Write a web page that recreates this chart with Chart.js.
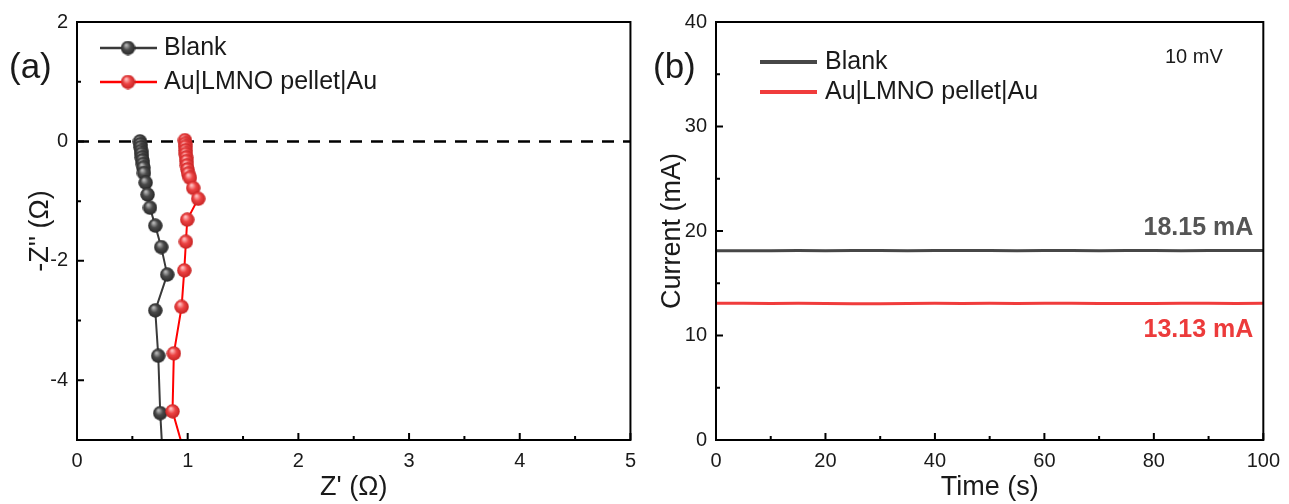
<!DOCTYPE html>
<html>
<head>
<meta charset="utf-8">
<script src="https://cdn.jsdelivr.net/npm/chart.js@4.4.1/dist/chart.umd.min.js"></script>
<style>
  html,body{margin:0;padding:0;background:#fff;}
  #wrap{position:relative;width:1289px;height:504px;overflow:hidden;}
  #ca{position:absolute;left:0;top:0;}
  #cb{position:absolute;left:645px;top:0;}
</style>
</head>
<body>
<div id="wrap">
  <canvas id="ca" width="645" height="504"></canvas>
  <canvas id="cb" width="644" height="504"></canvas>
</div>
<script>
// ---------- Panel (a) data : Nyquist plot ----------
const blankZre = [0.569,0.572,0.575,0.579,0.583,0.587,0.591,0.596,0.600,0.605,0.620,0.638,0.659,0.707,0.761,0.815,0.707,0.734,0.752,0.790];
const blankZim = [0.00,-0.05,-0.10,-0.16,-0.21,-0.27,-0.32,-0.38,-0.44,-0.53,-0.69,-0.89,-1.11,-1.41,-1.77,-2.23,-2.83,-3.59,-4.55,-5.80];
const redZre   = [0.975,0.977,0.979,0.981,0.983,0.986,0.989,0.993,0.998,1.005,1.020,1.050,1.095,0.996,0.984,0.969,0.945,0.875,0.863,1.060];
const redZim   = [0.02,-0.04,-0.09,-0.15,-0.21,-0.27,-0.33,-0.40,-0.47,-0.54,-0.61,-0.78,-0.96,-1.31,-1.68,-2.16,-2.77,-3.55,-4.52,-5.80];
const zeroLineX = [0, 5];
const zeroLineY = [0, 0];
const xTicksA = [0,1,2,3,4,5];
const xMinorA = [0.5,1.5,2.5,3.5,4.5];
const yTicksA = [-4,-2,0,2];
const yMinorA = [-5,-3,-1,1];

// ---------- Panel (b) data : current vs time ----------
const timeS = [0,5,10,15,20,25,30,35,40,45,50,55,60,65,70,75,80,85,90,95,100];
const blankCurrent = [18.10,18.12,18.11,18.13,18.12,18.14,18.13,18.12,18.14,18.13,18.13,18.12,18.14,18.13,18.12,18.13,18.14,18.12,18.13,18.13,18.14];
const pelletCurrent = [13.08,13.08,13.07,13.08,13.06,13.05,13.05,13.07,13.08,13.07,13.08,13.07,13.08,13.08,13.07,13.06,13.07,13.08,13.08,13.07,13.08];
const xTicksB = [0,20,40,60,80,100];
const xMinorB = [10,30,50,70,90];
const yTicksB = [0,10,20,30,40];
const yMinorB = [5,15,25,35];
const labelBlank = 'Blank';
const labelPellet = 'Au|LMNO pellet|Au';
const blankValueText = '18.15 mA';
const pelletValueText = '13.13 mA';
const biasText = '10 mV';

const FONT = '"Liberation Sans", Arial, Helvetica, sans-serif';
const TXT = '#1a1a1a';

function sphere(r, base, light, dark){
  const c = document.createElement('canvas');
  c.width = c.height = 2*r;
  const g = c.getContext('2d');
  const grad = g.createRadialGradient(r*0.75, r*0.6, r*0.08, r, r, r);
  grad.addColorStop(0, light);
  grad.addColorStop(0.45, base);
  grad.addColorStop(1, dark);
  g.fillStyle = grad;
  g.beginPath(); g.arc(r, r, r-0.3, 0, Math.PI*2); g.fill();
  return c;
}
const blackBall = sphere(7.5, '#4a4a4a', '#b8b8b8', '#262626');
const redBall = sphere(7.5, '#ec4444', '#ffc0c0', '#c42020');

function pts(xs, ys){ return xs.map((x,i)=>({x:x, y:ys[i]})); }

function tickPlugin(xMajor, xMinor, yMajor, yMinor){
  return {
    id:'frameTicks',
    afterDraw(chart){
      const {ctx, chartArea:a, scales:{x, y}} = chart;
      ctx.save();
      ctx.strokeStyle = '#000';
      ctx.lineWidth = 2;
      ctx.strokeRect(a.left, a.top, a.right-a.left, a.bottom-a.top);
      ctx.beginPath();
      xMajor.forEach(v=>{ const p=x.getPixelForValue(v); ctx.moveTo(p,a.bottom); ctx.lineTo(p,a.bottom-7); });
      xMinor.forEach(v=>{ const p=x.getPixelForValue(v); ctx.moveTo(p,a.bottom); ctx.lineTo(p,a.bottom-4); });
      yMajor.forEach(v=>{ const p=y.getPixelForValue(v); ctx.moveTo(a.left,p); ctx.lineTo(a.left+7,p); });
      yMinor.forEach(v=>{ const p=y.getPixelForValue(v); ctx.moveTo(a.left,p); ctx.lineTo(a.left+4,p); });
      ctx.stroke();
      ctx.restore();
    }
  };
}

function axisCommon(min, max, ticksArr, fitKey, fitVal, title, titlePad){
  return {
    type:'linear', min:min, max:max,
    afterBuildTicks(s){ s.ticks = ticksArr.map(v=>({value:v})); },
    afterFit(s){ s[fitKey] = fitVal; },
    grid:{display:false, drawTicks:false},
    border:{display:false},
    ticks:{color:TXT, font:{family:FONT, size:20}, padding:9},
    title:{display:true, text:title, color:TXT, font:{family:FONT, size:27}, padding:titlePad}
  };
}

// ---------- Chart (a) ----------
const legendA = {
  id:'legendA',
  afterDraw(chart){
    const ctx = chart.ctx;
    ctx.save();
    const rows = [{ds:chart.data.datasets[0], y:48}, {ds:chart.data.datasets[1], y:82}];
    rows.forEach(r=>{
      ctx.strokeStyle = r.ds.borderColor; ctx.lineWidth = 2.5;
      ctx.beginPath(); ctx.moveTo(100, r.y); ctx.lineTo(157, r.y); ctx.stroke();
      ctx.drawImage(r.ds.pointStyle, 128-7.5, r.y-7.5);
      ctx.fillStyle = TXT; ctx.font = '25px ' + FONT; ctx.textBaseline = 'middle';
      ctx.fillText(r.ds.label, 164, r.y);
    });
    ctx.font = '35px ' + FONT; ctx.fillStyle = TXT; ctx.textBaseline = 'middle';
    ctx.fillText('(a)', 9, 68);
    ctx.restore();
  }
};

new Chart(document.getElementById('ca'), {
  type:'scatter',
  data:{datasets:[
    {label:labelBlank, data:pts(blankZre, blankZim), showLine:true, borderColor:'#3a3a3a', borderWidth:2,
     pointStyle:blackBall, pointRadius:7.5, order:1},
    {label:labelPellet, data:pts(redZre, redZim), showLine:true, borderColor:'#ff0000', borderWidth:2,
     pointStyle:redBall, pointRadius:7.5, order:0},
    {label:'zero', data:pts(zeroLineX, zeroLineY), showLine:true, borderColor:'#000', borderWidth:2.5,
     borderDash:[12,9], pointRadius:0, order:5}
  ]},
  options:{
    responsive:false, animation:false, devicePixelRatio:1,
    layout:{padding:{top:22, right:14, bottom:0, left:0}},
    plugins:{legend:{display:false}, tooltip:{enabled:false}},
    scales:{
      x: axisCommon(0, 5, xTicksA, 'height', 64, "Z' (\u03A9)", {top:0, bottom:0}),
      y: axisCommon(-5, 2, yTicksA, 'width', 77, "-Z'' (\u03A9)", {top:24, bottom:0})
    }
  },
  plugins:[tickPlugin(xTicksA, xMinorA, yTicksA, yMinorA), legendA]
});

// ---------- Chart (b) ----------
const legendB = {
  id:'legendB',
  afterDraw(chart){
    const ctx = chart.ctx;
    const {scales:{x, y}} = chart;
    ctx.save();
    const rows = [{ds:chart.data.datasets[0], y:62}, {ds:chart.data.datasets[1], y:92}];
    rows.forEach(r=>{
      ctx.strokeStyle = r.ds.borderColor; ctx.lineWidth = 4;
      ctx.beginPath(); ctx.moveTo(760-645, r.y); ctx.lineTo(817-645, r.y); ctx.stroke();
      ctx.fillStyle = TXT; ctx.font = '25px ' + FONT; ctx.textBaseline = 'middle';
      ctx.fillText(r.ds.label, 825-645, r.y);
    });
    ctx.font = '20px ' + FONT; ctx.fillStyle = TXT; ctx.textBaseline = 'middle';
    ctx.fillText(biasText, 1165-645, 57);
    ctx.font = 'bold 25px ' + FONT; ctx.textAlign = 'right';
    const xr = x.getPixelForValue(100) - 10;
    ctx.fillStyle = '#555555';
    ctx.fillText(blankValueText, xr, y.getPixelForValue(18.15) - 22);
    ctx.fillStyle = '#ec3b3b';
    ctx.fillText(pelletValueText, xr, y.getPixelForValue(13.13) + 27);
    ctx.textAlign = 'left';
    ctx.font = '35px ' + FONT; ctx.fillStyle = TXT;
    ctx.fillText('(b)', 653-645, 68);
    ctx.restore();
  }
};

new Chart(document.getElementById('cb'), {
  type:'line',
  data:{datasets:[
    {label:labelBlank, data:pts(timeS, blankCurrent), borderColor:'#474747', borderWidth:3, pointRadius:0},
    {label:labelPellet, data:pts(timeS, pelletCurrent), borderColor:'#f03c3c', borderWidth:3, pointRadius:0}
  ]},
  options:{
    responsive:false, animation:false, devicePixelRatio:1,
    layout:{padding:{top:22, right:18, bottom:0, left:0}},
    plugins:{legend:{display:false}, tooltip:{enabled:false}},
    scales:{
      x: axisCommon(0, 100, xTicksB, 'height', 64, 'Time (s)', {top:0, bottom:0}),
      y: axisCommon(0, 40, yTicksB, 'width', 71, 'Current (mA)', {top:11, bottom:0})
    }
  },
  plugins:[tickPlugin(xTicksB, xMinorB, yTicksB, yMinorB), legendB]
});
</script>
</body>
</html>
